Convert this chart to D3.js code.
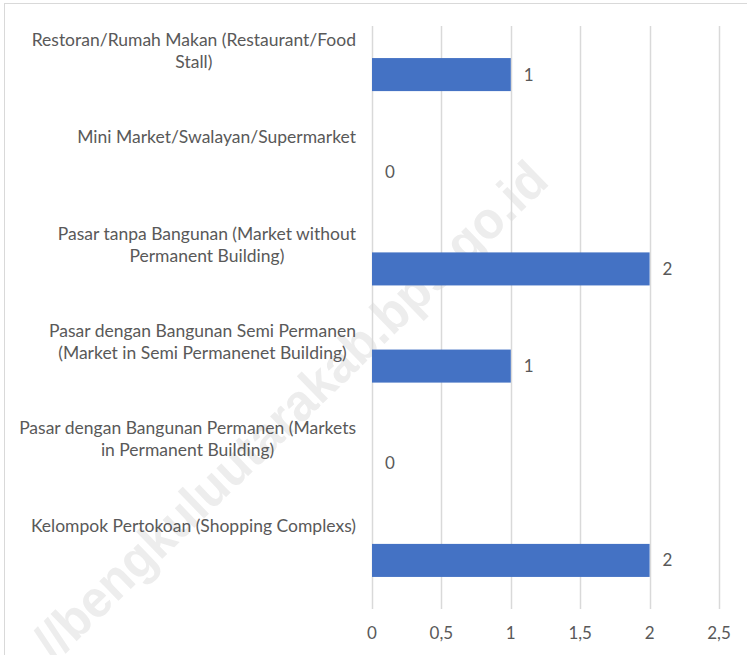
<!DOCTYPE html>
<html>
<head>
<meta charset="utf-8">
<script src="https://cdn.jsdelivr.net/npm/d3@7"></script>
<style>
  body { margin: 0; background: #fff; }
  text { font-family: Lato, "Open Sans", sans-serif; fill: #595959; }
</style>
</head>
<body>
<svg class="chart" width="747" height="655"></svg>
<script>
// categories, top to bottom (each one split into its display lines)
var categories = [
  ["Restoran/Rumah Makan (Restaurant/Food", "Stall)"],
  ["Mini Market/Swalayan/Supermarket"],
  ["Pasar tanpa Bangunan (Market without", "Permanent Building)"],
  ["Pasar dengan Bangunan Semi Permanen", "(Market in Semi Permanenet Building)"],
  ["Pasar dengan Bangunan Permanen (Markets", "in Permanent Building)"],
  ["Kelompok Pertokoan (Shopping Complexs)"]
];
var values = [1, 0, 2, 1, 0, 2];
var ticks = [0, 0.5, 1, 1.5, 2, 2.5];

var width = 747,
    height = 655;

var chart = d3.select(".chart");

// frame
chart.append("rect")
  .attr("x", 4.5).attr("y", 3.5)
  .attr("width", width + 20).attr("height", height + 20)
  .attr("fill", "#fff")
  .attr("stroke", "#d9d9d9");

// watermark, behind everything else
chart.append("text")
  .attr("transform", "translate(290,410) rotate(-44)")
  .attr("text-anchor", "middle")
  .attr("dy", "0.35em")
  .attr("textLength", 690)
  .attr("lengthAdjust", "spacingAndGlyphs")
  .style("font-family", "'Liberation Sans', sans-serif")
  .style("font-weight", "bold")
  .style("font-size", "52px")
  .style("fill", "#ededed")
  .text("//bengkuluutarakab.bps.go.id");

var x = d3.scaleLinear()
  .domain([0, 2.5])
  .range([372, 719]);

var y = d3.scaleBand()
  .domain(d3.range(categories.length))
  .range([26, 609])
  .paddingInner(0.66)
  .paddingOuter(0.33);

// gridlines
chart.append("g").selectAll("line")
  .data(ticks)
  .enter().append("line")
  .attr("x1", function(d) { return Math.round(x(d)) + 0.5; })
  .attr("x2", function(d) { return Math.round(x(d)) + 0.5; })
  .attr("y1", 26)
  .attr("y2", 609)
  .attr("stroke", "#d9d9d9")
  .attr("stroke-width", 1.5);

// tick labels
chart.append("g").selectAll("text")
  .data(ticks)
  .enter().append("text")
  .attr("x", function(d) { return x(d); })
  .attr("y", 639)
  .attr("text-anchor", "middle")
  .style("font-size", "17px")
  .text(function(d) { return String(d).replace(".", ","); });

// bars
chart.append("g").selectAll("rect")
  .data(values)
  .enter().append("rect")
  .attr("x", x(0))
  .attr("y", function(d, i) { return y(i); })
  .attr("width", function(d) { return x(d) - x(0); })
  .attr("height", y.bandwidth())
  .attr("fill", "#4472c4");

// value labels
chart.append("g").selectAll("text")
  .data(values)
  .enter().append("text")
  .attr("x", function(d) { return x(d) + 13; })
  .attr("y", function(d, i) { return y(i) + y.bandwidth() / 2; })
  .attr("dy", "0.35em")
  .style("font-size", "17px")
  .text(function(d) { return d; });

// category labels: lines centred on each other, block right edge at 356
var label = chart.append("g").selectAll("g")
  .data(categories)
  .enter().append("g");

label.each(function(lines, i) {
  var g = d3.select(this);
  var cy = y(i) + y.bandwidth() / 2 - 35;
  var texts = lines.map(function(line, k) {
    return g.append("text")
      .attr("y", cy + k * 22)
      .attr("dy", "0.35em")
      .attr("text-anchor", "middle")
      .style("font-size", "17.5px")
      .text(line);
  });
  var widest = d3.max(texts, function(t) { return t.node().getComputedTextLength(); });
  texts.forEach(function(t) { t.attr("x", 356 - widest / 2); });
});
</script>
</body>
</html>
